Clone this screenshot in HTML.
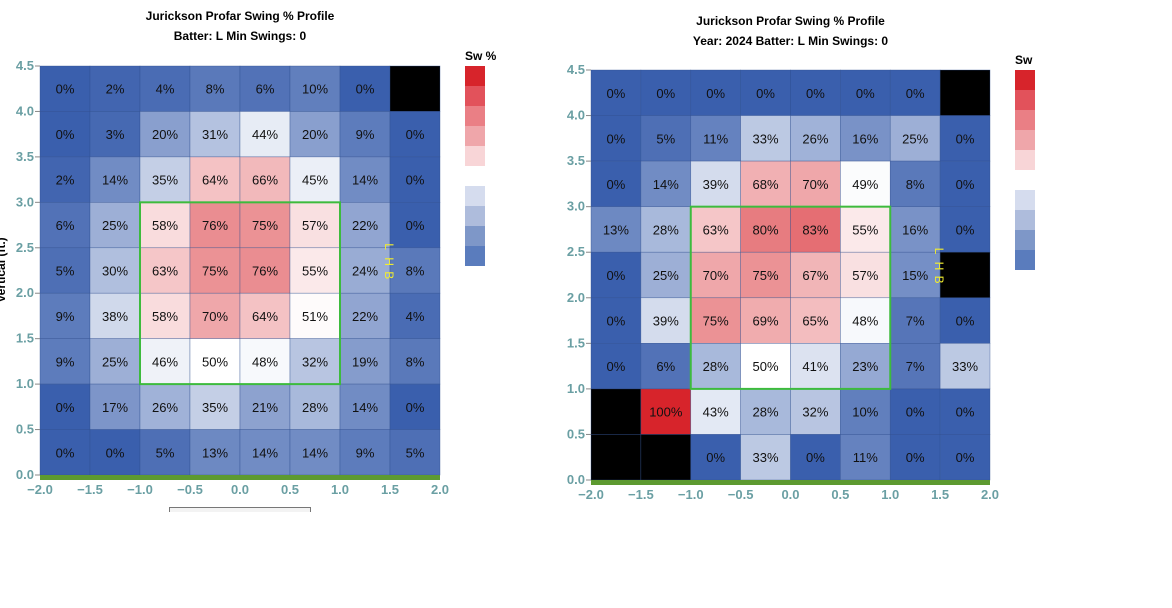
<!DOCTYPE html>
<html><head><meta charset="utf-8"><style>
body{margin:0;background:#fff;width:1172px;height:603px;overflow:hidden;font-family:"Liberation Sans",Arial,sans-serif}
</style></head><body>
<svg id="s" width="1172" height="603" xmlns="http://www.w3.org/2000/svg" font-family="Liberation Sans, Arial, sans-serif"></svg>
<script>
const s=document.getElementById('s');let h='';
function col(v){if(v===null)return '#000';
 const B=[58,95,173],W=[255,255,255],R=[215,36,43];let c;
 if(v<=50){let t=Math.pow(v/50,1.0);c=B.map((b,i)=>b+(W[i]-b)*t);}else{let t=(v-50)/50;c=W.map((w,i)=>w+(R[i]-w)*t);}
 return 'rgb('+c.map(Math.round).join(',')+')';}
function chart(x0,x1,y0,y1,data,title1,title2,ty,lx,legLabel,leftLab){
 const cw=(x1-x0)/8,rh=(y1-y0)/9,tc='#6a9fa3';
 h+=`<text x="${(x0+x1)/2}" y="${ty}" text-anchor="middle" font-size="12" font-weight="bold">${title1}</text>`;
 h+=`<text x="${(x0+x1)/2}" y="${ty+20}" text-anchor="middle" font-size="12" font-weight="bold">${title2}</text>`;
 data.forEach((row,r)=>row.forEach((v,c)=>{const x=x0+c*cw,y=y0+r*rh;
  h+=`<rect x="${x}" y="${y}" width="${cw}" height="${rh}" fill="${col(v)}" stroke="#2f4f8f" stroke-width="0.6" stroke-opacity="0.6"/>`;
  if(v!==null)h+=`<text x="${x+cw/2}" y="${y+rh/2+5}" text-anchor="middle" font-size="13" fill="#111">${v}%</text>`;}));
 h+=`<rect x="${x0+2*cw}" y="${y0+3*rh}" width="${4*cw}" height="${4*rh}" fill="none" stroke="#3dbb3d" stroke-width="2"/>`;
 h+=`<rect x="${x0}" y="${y1}" width="${x1-x0}" height="5" fill="#5d9a30"/>`;
 for(let i=0;i<=9;i++){const y=y1-i*(y1-y0)/9;h+=`<line x1="${x0-5}" x2="${x0}" y1="${y}" y2="${y}" stroke="#888"/><text x="${x0-6}" y="${y+4}" text-anchor="end" font-size="13" font-weight="bold" fill="${tc}">${(i*0.5).toFixed(1)}</text>`;}
 for(let i=0;i<=8;i++){const x=x0+i*cw;h+=`<text x="${x}" y="${y1+19}" text-anchor="middle" font-size="13" font-weight="bold" fill="${tc}">${(-2+i*0.5).toFixed(1).replace('-','−')}</text>`;}
 const lbx=x0+6.9*cw,lby=y0+3.9*rh;
 ['L','H','B'].forEach((t,i)=>h+=`<text x="${lbx}" y="${lby+i*14}" font-size="12" fill="#f0ec30" transform="rotate(90 ${lbx} ${lby+i*14})">${t}</text>`);
 const lc=['#d7242b','#e2525b','#ea7f85','#efa6aa','#f8d5d7','#ffffff','#d5dcee','#aebcdc','#7e97c8','#5a7cbd'];
 h+=`<text x="${lx}" y="${y0-6}" font-size="12" font-weight="bold">${legLabel}</text>`;
 lc.forEach((c,i)=>h+=`<rect x="${lx}" y="${y0+i*20}" width="20" height="20" fill="${c}"/>`);
 if(leftLab)h+=`<text x="5" y="270" font-size="12" font-weight="bold" transform="rotate(-90 5 270)" text-anchor="middle">Vertical (ft.)</text>`;
}
const N=null;
chart(40,440,66,475,[
[0,2,4,8,6,10,0,N],[0,3,20,31,44,20,9,0],[2,14,35,64,66,45,14,0],[6,25,58,76,75,57,22,0],[5,30,63,75,76,55,24,8],[9,38,58,70,64,51,22,4],[9,25,46,50,48,32,19,8],[0,17,26,35,21,28,14,0],[0,0,5,13,14,14,9,5]],
'Jurickson Profar Swing % Profile','Batter: L Min Swings: 0',20,465,'Sw %',true);
chart(591,990,70,480,[
[0,0,0,0,0,0,0,N],[0,5,11,33,26,16,25,0],[0,14,39,68,70,49,8,0],[13,28,63,80,83,55,16,0],[0,25,70,75,67,57,15,N],[0,39,75,69,65,48,7,0],[0,6,28,50,41,23,7,33],[N,100,43,28,32,10,0,0],[N,N,0,33,0,11,0,0]],
'Jurickson Profar Swing % Profile','Year: 2024 Batter: L Min Swings: 0',25,1015,'Sw',false);
h+='<path d="M169.5 512 V507.5 H310.5 V512" fill="#f3f3f3" stroke="#777"/>';
s.innerHTML=h;
</script>
</body></html>
